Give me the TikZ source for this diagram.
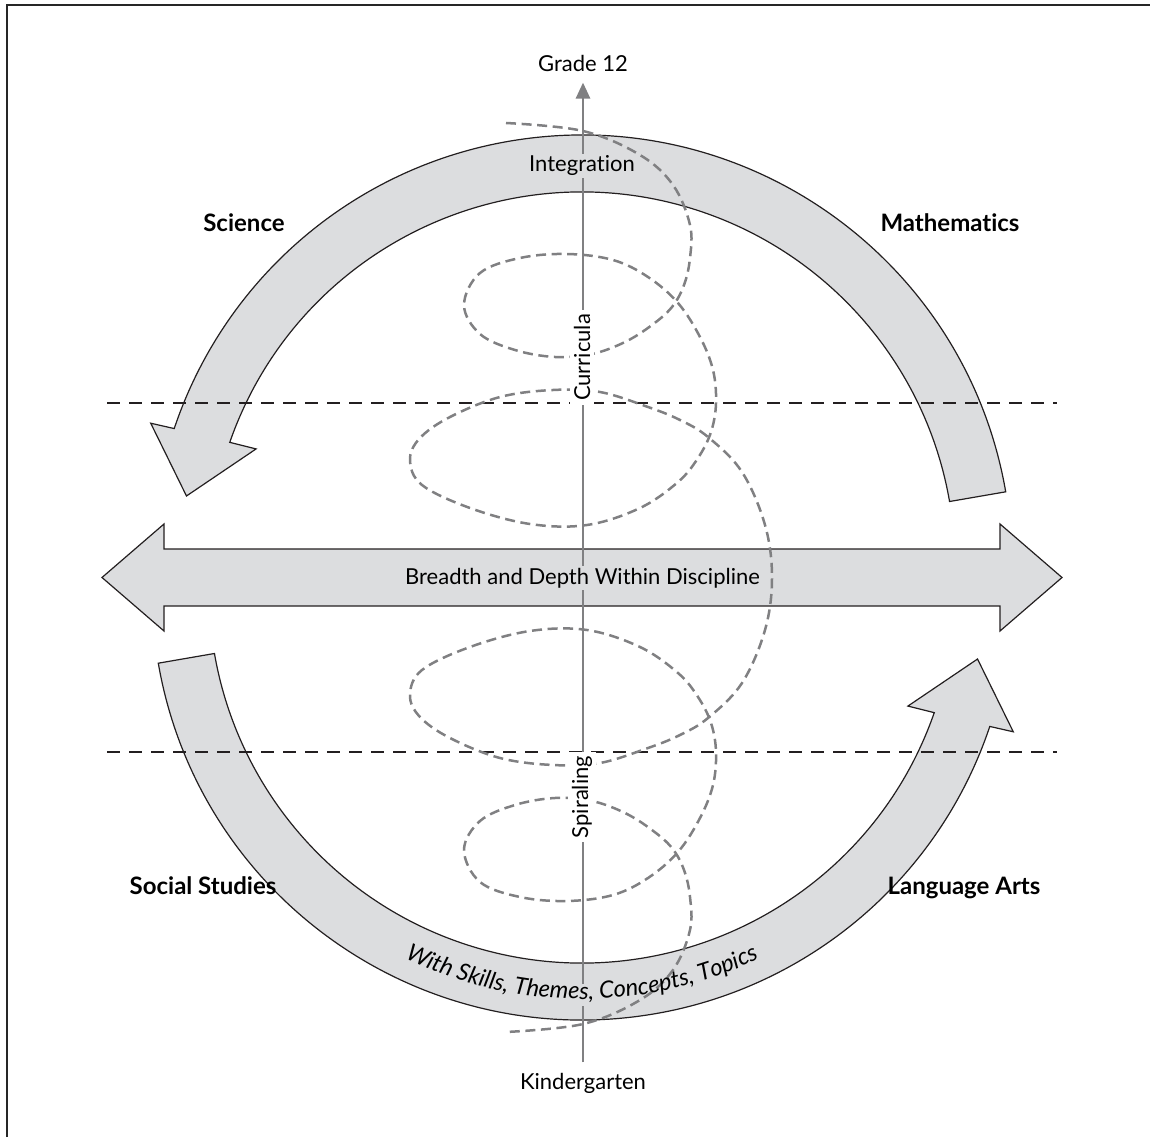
\documentclass[tikz,border=0pt]{standalone}
\usepackage{fontspec}
\setmainfont{Lato}[Ligatures=NoCommon]
\usetikzlibrary{arrows.meta,decorations.text}
\definecolor{ringgray}{RGB}{220,221,223}
\definecolor{inkblack}{RGB}{35,31,32}
\definecolor{spiralgray}{RGB}{128,128,130}
\begin{document}
\begin{tikzpicture}[x=0.5pt,y=0.5pt,
  ringarrow/.style={fill=ringgray,draw=inkblack,line width=0.6pt,line join=miter},
  guideline/.style={draw=inkblack,line width=1.35pt,dash pattern=on 6.5pt off 4.5pt},
  spiral/.style={draw=spiralgray,line width=1.25pt,dash pattern=on 5pt off 2.8pt},
  axisline/.style={draw=spiralgray,line width=1.4pt,-{Triangle[width=7pt,length=8pt]}},
  subject/.style={font=\fontsize{12}{14}\selectfont\bfseries,inner sep=0pt},
  plain/.style={font=\fontsize{11}{13}\selectfont,inner sep=0pt},
]
\useasboundingbox (0,0) rectangle (1150,1137);
% frame
\draw[black!85,line width=1pt] (7,0) -- (7,1131.5) -- (1150,1131.5);

% upper curved arrow (Mathematics -> Science)
\begin{scope}[shift={(582,572)}]
\path[ringarrow] (9.8:430) arc[start angle=9.8,end angle=161.5,radius=430]
  -- (161.8:454) -- (170.1:401.5) -- (160.4:346) -- (160.8:373)
  arc[start angle=160.8,end angle=9.8,radius=373] -- cycle;
\end{scope}
% lower curved arrow (Social Studies -> Language Arts)
\begin{scope}[rotate around={180:(582,559.5)},shift={(582,572)}]
\path[ringarrow] (9.8:430) arc[start angle=9.8,end angle=161.5,radius=430]
  -- (161.8:454) -- (170.1:401.5) -- (160.4:346) -- (160.8:373)
  arc[start angle=160.8,end angle=9.8,radius=373] -- cycle;
\end{scope}

% horizontal double arrow
\path[ringarrow] (102,559.5) -- (164,613) -- (164,588) -- (1000,588) -- (1000,613)
  -- (1062,559.5) -- (1000,506) -- (1000,531) -- (164,531) -- (164,506) -- cycle;

% dashed guide lines
\coordinate (gla) at (107,734); \coordinate (glb) at (1057,734);
\coordinate (glc) at (107,385); \coordinate (gld) at (1057,385);
\draw[guideline] (gla) -- (glb);
\draw[guideline] (glc) -- (gld);

% spiral
\draw[spiral] plot[smooth,tension=0.6] coordinates {
(506,1014) (583,1006) (640,982) (673,952) (690,912) (690,879) (684,852)
(672,830) (652,812) (625,795) (592,783) (555,780) (515,787) (480,803)
(464,832) (480,864) (520,879) (567,883) (613,877) (648,860) (678,834)
(700,800) (713,767) (716,734) (711,705) (698,679) (678,655) (640,629)
(587,612) (530,613) (470,629) (422,652) (410,677) (420,699) (450,720)
(500,740) (553,747) (600,745) (648,730) (680,717) (708,700) (742,665)
(765,612) (772,559.5)
(765,507) (742,454) (708,419) (680,402) (648,389) (600,374) (553,372)
(500,379) (450,399) (420,420) (410,442) (422,467) (470,490) (530,506)
(587,507) (640,490) (678,464) (698,440) (711,414) (716,385) (713,352)
(700,319) (678,285) (648,259) (613,242) (567,236) (520,240) (480,255)
(464,287) (480,316) (515,332) (555,339) (592,336) (625,324) (652,307)
(672,289) (684,267) (690,240) (690,207) (673,167) (640,137) (583,113)
(506,105)};

% vertical axis
\node[plain,anchor=base] (g12) at (583,1065) {Grade 12};
\node[plain,anchor=base] (kg) at (583,48) {Kindergarten};
\draw[axisline,shorten <=5pt,shorten >=5pt] (kg.north) -- (g12.south);

% texts
\node[plain,anchor=base,fill=ringgray,inner sep=1pt] (integ) at (582,965) {Integration};
\node[plain,anchor=base,fill=ringgray,inner sep=1pt] (breadth) at (582.5,553) {Breadth and Depth Within Discipline};
\node[plain,rotate=90,fill=white,inner sep=2pt] (curr) at (582,779.5) {Curricula};
\node[plain,rotate=90,fill=white,inner sep=2pt] (spir) at (582,340) {Spiraling};

\node[subject,anchor=base] (sci) at (244,905) {Science};
\node[subject,anchor=base] (math) at (950,905) {Mathematics};
\node[subject,anchor=base] (soc) at (203,243) {Social Studies};
\node[subject,anchor=base] (lang) at (964,243) {Language Arts};

% curved text on lower arrow
\fill[ringgray] (579,131) rectangle (587,153);
\path[decorate,decoration={text along path,text align=center,
  text={|\fontsize{11.8}{14}\selectfont\itshape|With Skills, Themes, Concepts, Topics}}]
  (582,547) ++(200:409) arc[start angle=200,end angle=340,radius=409];
\end{tikzpicture}
\end{document}
